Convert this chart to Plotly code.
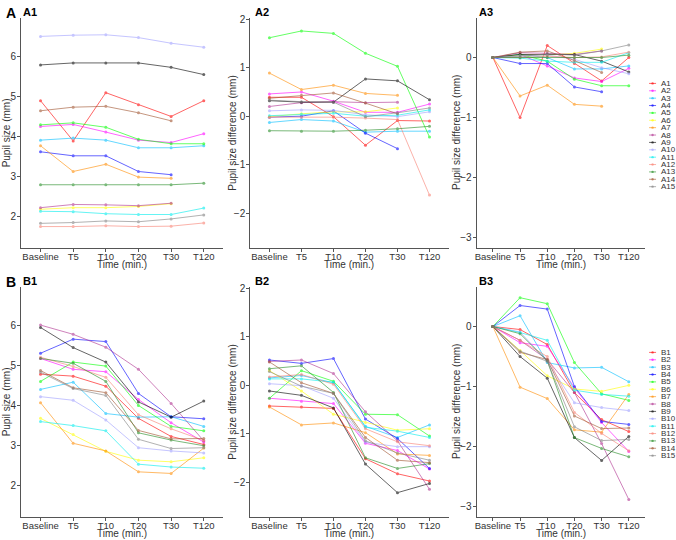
import plotly.graph_objects as go

# ---------------- data ----------------
TIMES = ["Baseline", "T5", "T10", "T20", "T30", "T120"]
A_NAMES = ["A1", "A2", "A3", "A4", "A5", "A6", "A7", "A8", "A9", "A10", "A11", "A12", "A13", "A14", "A15"]
B_NAMES = ["B1", "B2", "B3", "B4", "B5", "B6", "B7", "B8", "B9", "B10", "B11", "B12", "B13", "B14", "B15"]
SERIES_COLORS = ["#FF0000", "#FF00FF", "#00BFFF", "#0000FF", "#00FF00", "#FFFF00", "#FF8C00",
                 "#B03090", "#000000", "#A0A0FF", "#00EEEE", "#FA8072", "#228B22", "#A0522D", "#808080"]

# A1: pupil size (mm)
A1_SIZE = [
    [4.89, 3.89, 5.09, 4.79, 4.50, 4.89],
    [4.25, 4.30, 4.11, 3.91, 3.85, 4.07],
    [3.91, 3.96, 3.91, 3.72, 3.72, 3.77],
    [3.62, 3.52, 3.52, 3.13, 3.05, None],
    [4.29, 4.34, 4.23, 3.93, 3.82, 3.82],
    [2.19, 2.23, 2.23, 2.26, 2.33, None],
    [3.77, 3.13, 3.31, 2.99, 2.96, None],
    [2.23, 2.31, 2.30, 2.28, 2.34, None],
    [5.78, 5.83, 5.83, 5.83, 5.72, 5.54],
    [6.49, 6.52, 6.53, 6.46, 6.32, 6.22],
    [2.14, 2.13, 2.08, 2.06, 2.06, 2.22],
    [1.76, 1.76, 1.78, 1.76, 1.77, 1.85],
    [2.80, 2.80, 2.80, 2.80, 2.80, 2.84],
    [4.64, 4.73, 4.75, 4.59, 4.39, None],
    [1.84, 1.86, 1.90, 1.88, 1.95, 2.05],
]
# A2: pupil size difference (mm)
A2_DIFF = [
    [0.39, 0.39, -0.01, -0.60, -0.09, -0.10],
    [0.46, 0.50, 0.31, 0.08, 0.08, 0.25],
    [-0.13, -0.07, -0.10, -0.33, -0.31, -0.31],
    [-0.02, 0.00, 0.11, -0.35, -0.67, None],
    [1.62, 1.76, 1.71, 1.30, 1.03, -0.43],
    [-0.01, 0.05, 0.09, 0.09, 0.17, None],
    [0.89, 0.55, 0.64, 0.47, 0.43, None],
    [0.20, 0.28, 0.30, 0.28, 0.29, None],
    [0.32, 0.29, 0.29, 0.77, 0.73, 0.34],
    [0.11, 0.13, 0.12, 0.03, -0.01, 0.09],
    [0.01, 0.04, 0.06, 0.00, 0.02, 0.13],
    [-0.02, -0.02, -0.02, -0.04, -0.07, -1.63],
    [-0.30, -0.31, -0.31, -0.29, -0.26, -0.21],
    [0.37, 0.43, 0.48, 0.27, 0.05, None],
    [0.33, 0.30, 0.29, -0.01, 0.07, 0.17],
]
# A3: pupil size difference from baseline (mm)
A3_DIFF = [
    [0, -1.00, 0.20, -0.10, -0.39, 0.00],
    [0, 0.05, -0.14, -0.34, -0.40, -0.18],
    [0, 0.05, 0.00, -0.19, -0.19, -0.14],
    [0, -0.10, -0.10, -0.49, -0.57, None],
    [0, 0.05, -0.06, -0.36, -0.47, -0.47],
    [0, 0.04, 0.04, 0.07, 0.14, None],
    [0, -0.64, -0.46, -0.78, -0.81, None],
    [0, 0.08, 0.07, 0.05, 0.11, None],
    [0, 0.05, 0.05, 0.05, -0.06, -0.24],
    [0, 0.03, 0.04, -0.03, -0.17, -0.27],
    [0, -0.01, -0.06, -0.08, -0.08, 0.08],
    [0, 0.00, 0.02, 0.00, 0.01, 0.09],
    [0, 0.00, 0.00, 0.00, 0.00, 0.04],
    [0, 0.09, 0.11, -0.05, -0.25, None],
    [0, 0.02, 0.06, 0.04, 0.11, 0.21],
]
# B1: pupil size (mm)
B1_SIZE = [
    [4.78, 4.73, 4.48, 3.68, 3.23, 3.03],
    [5.17, 4.90, 4.84, 4.15, 3.57, 3.09],
    [4.40, 4.58, 3.80, 3.71, 3.72, 3.48],
    [5.30, 5.65, 5.59, 4.30, 3.72, 3.67],
    [4.60, 5.08, 4.98, 4.00, 3.48, 3.37],
    [3.68, 3.28, 2.86, 2.64, 2.60, 2.70],
    [4.07, 3.06, 2.87, 2.35, 2.31, 2.94],
    [6.00, 5.77, 5.45, 4.90, 4.05, 3.12],
    [5.94, 5.44, 5.08, 4.09, 3.71, 4.11],
    [4.22, 4.13, 3.64, 2.95, 2.87, 2.82],
    [3.60, 3.50, 3.37, 2.54, 2.47, 2.44],
    [5.20, 4.97, 4.70, 3.77, 3.42, 3.13],
    [5.17, 5.05, 4.60, 3.32, 3.14, 3.00],
    [4.87, 4.44, 4.32, 3.38, 3.17, 3.18],
    [4.83, 4.42, 4.25, 3.16, 2.93, 2.95],
]
# B2: pupil size difference (mm)
B2_DIFF = [
    [-0.43, -0.45, -0.48, -1.52, -1.83, -1.98],
    [-0.27, -0.33, -0.38, -1.20, -1.35, -1.73],
    [0.15, 0.20, 0.05, -0.85, -1.08, -0.82],
    [0.52, 0.45, 0.55, -0.70, -1.10, -1.72],
    [-0.27, 0.30, 0.08, -0.60, -0.61, -1.05],
    [0.30, -0.12, -0.60, -0.77, -0.93, -0.90],
    [-0.45, -0.82, -0.78, -0.98, -1.42, -1.45],
    [0.49, 0.52, 0.24, -0.55, -1.15, -2.15],
    [-0.12, -0.21, -0.47, -1.63, -2.22, -2.03],
    [0.03, -0.01, -0.27, -1.18, -1.27, -1.27],
    [0.13, 0.13, 0.06, -0.87, -0.95, -1.08],
    [0.17, 0.22, 0.02, -0.90, -1.17, -1.25],
    [0.34, 0.40, -0.15, -1.50, -1.72, -1.62],
    [0.48, 0.05, -0.17, -1.08, -1.55, -1.60],
    [0.28, -0.02, -0.17, -1.15, -1.40, -1.55],
]
# B3: pupil size difference from baseline (mm)
B3_DIFF = [
    [0, -0.05, -0.30, -1.10, -1.55, -1.75],
    [0, -0.27, -0.33, -1.02, -1.60, -2.08],
    [0, 0.18, -0.60, -0.69, -0.68, -0.92],
    [0, 0.35, 0.29, -1.00, -1.58, -1.63],
    [0, 0.48, 0.38, -0.60, -1.12, -1.23],
    [0, -0.40, -0.82, -1.04, -1.08, -0.98],
    [0, -1.01, -1.20, -1.72, -1.76, -1.13],
    [0, -0.23, -0.55, -1.10, -1.95, -2.88],
    [0, -0.50, -0.86, -1.85, -2.23, -1.83],
    [0, -0.09, -0.58, -1.27, -1.35, -1.40],
    [0, -0.10, -0.23, -1.06, -1.13, -1.16],
    [0, -0.23, -0.50, -1.43, -1.78, -2.07],
    [0, -0.12, -0.57, -1.85, -2.03, -2.17],
    [0, -0.43, -0.55, -1.49, -1.70, -1.69],
    [0, -0.41, -0.58, -1.67, -1.90, -1.88],
]

SIZE_TICKS = [2, 3, 4, 5, 6]
DIFF_TICKS = [-2, -1, 0, 1, 2]
BASE_TICKS = [-3, -2, -1, 0]

# ---------------- layout ----------------
W, H = 676, 540
FONT = "Liberation Sans, Arial, sans-serif"
AXIS_COLOR = "#555555"
TEXT_COLOR = "#333333"

COLS_PX = [(19, 222), (249, 448), (476, 645)]
ROWS_PX = [(14, 245.7), (285, 516.7)]
Y_RANGES = [[1.23, 6.95], [-2.72, 2.03], [-3.17, 0.66]]
Y_TICKS = [SIZE_TICKS, DIFF_TICKS, BASE_TICKS]
Y_TITLES = ["Pupil size (mm)", "Pupil size difference (mm)", "Pupil size difference (mm)"]

panels = [
    ("A1", A1_SIZE, 0, 0), ("A2", A2_DIFF, 0, 1), ("A3", A3_DIFF, 0, 2),
    ("B1", B1_SIZE, 1, 0), ("B2", B2_DIFF, 1, 1), ("B3", B3_DIFF, 1, 2),
]

fig = go.Figure()
layout = dict(
    width=W, height=H,
    margin=dict(l=0, r=0, t=0, b=0),
    paper_bgcolor="white", plot_bgcolor="white",
    showlegend=False,
    font=dict(family=FONT, color=TEXT_COLOR, size=10),
)
annotations = []
shapes = []


def px_x(v):
    return v / W


def px_y(v):
    return 1 - v / H


for k, (label, data, r, c) in enumerate(panels):
    n = k + 1
    xs = "" if n == 1 else str(n)
    x0, x1 = COLS_PX[c]
    y0, y1 = ROWS_PX[r]
    for i, row in enumerate(data):
        fig.add_trace(go.Scatter(
            x=TIMES, y=row, mode="lines+markers",
            line=dict(color=SERIES_COLORS[i], width=1),
            marker=dict(color=SERIES_COLORS[i], size=3),
            opacity=0.6,
            xaxis="x" + xs, yaxis="y" + xs,
            name=(A_NAMES if r == 0 else B_NAMES)[i],
            hoverinfo="skip", connectgaps=False,
        ))
    layout["xaxis" + xs] = dict(
        domain=[px_x(x0), px_x(x1)], anchor="y" + xs,
        type="category", categoryorder="array", categoryarray=TIMES,
        range=[-0.6, 5.6], tickangle=0,
        showline=True, linecolor=AXIS_COLOR, linewidth=1,
        ticks="outside", ticklen=3, tickcolor=AXIS_COLOR,
        ticklabelstandoff=-3,
        tickfont=dict(size=9.5, color=TEXT_COLOR, family=FONT),
        showgrid=False, zeroline=False, fixedrange=True,
    )
    layout["yaxis" + xs] = dict(
        domain=[px_y(y1), px_y(y0)], anchor="x" + xs,
        range=Y_RANGES[c], tickvals=Y_TICKS[c],
        showline=True, linecolor=AXIS_COLOR, linewidth=1,
        ticks="outside", ticklen=3, tickcolor=AXIS_COLOR,
        ticklabelstandoff=-1,
        tickfont=dict(size=10, color=TEXT_COLOR, family=FONT),
        showgrid=False, zeroline=False, fixedrange=True,
    )
    # axis titles
    annotations.append(dict(
        text="Time (min.)", xref="paper", yref="paper",
        x=px_x((x0 + x1) / 2), y=px_y(y1 + 17), xanchor="center", yanchor="middle",
        showarrow=False, font=dict(size=10, color=TEXT_COLOR, family=FONT),
    ))
    title_x = [4.5, 231.5, 456.5][c]
    annotations.append(dict(
        text=Y_TITLES[c], xref="paper", yref="paper", textangle=-90,
        x=px_x(title_x), y=px_y((y0 + y1) / 2), xanchor="center", yanchor="middle",
        showarrow=False, font=dict(size=10, color=TEXT_COLOR, family=FONT),
    ))
    # panel labels
    lab_x = [19, 252, 476][c]
    annotations.append(dict(
        text="<b>" + label + "</b>", xref="paper", yref="paper",
        x=px_x(lab_x), y=px_y(y0 - 6), xanchor="left", yanchor="middle",
        showarrow=False, font=dict(size=11, color="#000000", family=FONT),
    ))

# row letters
for r, letter in enumerate(["A", "B"]):
    y0 = ROWS_PX[r][0]
    annotations.append(dict(
        text="<b>" + letter + "</b>", xref="paper", yref="paper",
        x=px_x(2), y=px_y(y0 - 5), xanchor="left", yanchor="middle",
        showarrow=False, font=dict(size=14, color="#000000", family=FONT),
    ))

# legends (drawn manually to match the compact key spacing)
LEG_TOP = [80, 351]
LEG_STEP = 7.43
for r, names in enumerate([A_NAMES, B_NAMES]):
    for i, nm in enumerate(names):
        yy = LEG_TOP[r] + i * LEG_STEP
        shapes.append(dict(
            type="line", xref="paper", yref="paper",
            x0=px_x(649), x1=px_x(656), y0=px_y(yy), y1=px_y(yy),
            line=dict(color=SERIES_COLORS[i], width=1), opacity=0.6,
        ))
        shapes.append(dict(
            type="circle", xref="paper", yref="paper",
            x0=px_x(651.3), x1=px_x(653.7), y0=px_y(yy + 1.2), y1=px_y(yy - 1.2),
            line=dict(width=0), fillcolor=SERIES_COLORS[i], opacity=0.6,
        ))
        annotations.append(dict(
            text=nm, xref="paper", yref="paper",
            x=px_x(659), y=px_y(yy), xanchor="left", yanchor="middle",
            showarrow=False, font=dict(size=8, color=TEXT_COLOR, family=FONT),
        ))

layout["annotations"] = annotations
layout["shapes"] = shapes
fig.update_layout(**layout)
fig.write_html(
    "out.html",
    config={"displayModeBar": False, "responsive": False},
    post_script="document.body.style.margin='0px';document.body.style.padding='0px';",
)
